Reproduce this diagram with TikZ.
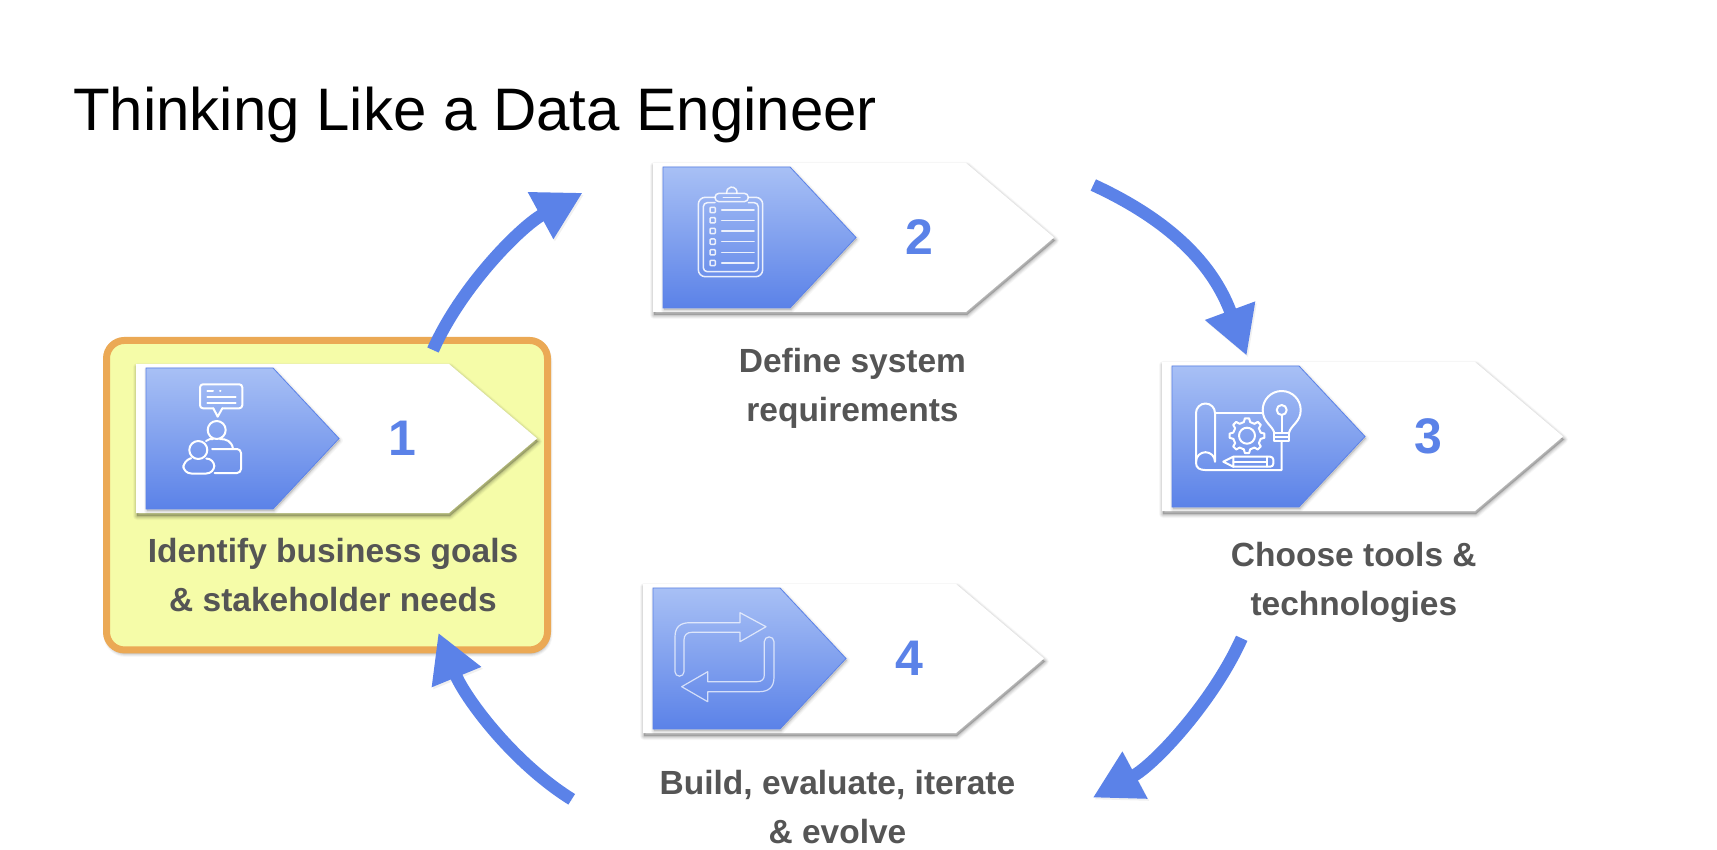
\documentclass[tikz,border=0pt]{standalone}
\usepackage{fontspec}
\setmainfont{Liberation Sans}
\usetikzlibrary{shapes.symbols,shapes.arrows,arrows.meta}
\definecolor{stepblue}{HTML}{5B82E8}
\definecolor{steptop}{HTML}{A8C0F5}
\definecolor{labelgray}{HTML}{555555}
\definecolor{hlfill}{HTML}{F5FCA8}
\definecolor{hlline}{HTML}{EBA955}
\tikzset{
  softshadow/.style={
    preaction={draw=black,fill=black,line width=8pt,line join=round,opacity=.03,transform canvas={shift={(1pt,-3pt)}}},
    preaction={draw=black,fill=black,line width=6pt,line join=round,opacity=.05,transform canvas={shift={(1pt,-3pt)}}},
    preaction={draw=black,fill=black,line width=4pt,line join=round,opacity=.06,transform canvas={shift={(1pt,-3pt)}}},
    preaction={draw=black,fill=black,line width=2pt,line join=round,opacity=.08,transform canvas={shift={(1pt,-3pt)}}}},
  lightshadow/.style={
    preaction={draw=black,fill=black,line width=6pt,line join=round,opacity=.03,transform canvas={shift={(1pt,-2pt)}}},
    preaction={draw=black,fill=black,line width=4pt,line join=round,opacity=.04,transform canvas={shift={(1pt,-2pt)}}},
    preaction={draw=black,fill=black,line width=2pt,line join=round,opacity=.05,transform canvas={shift={(1pt,-2pt)}}}},
  whitechev/.style={signal,signal to=east,signal from=nowhere,signal pointer angle=80.5,
    minimum width=401pt,minimum height=149pt,inner sep=0pt,outer sep=0pt,anchor=west,fill=white,softshadow},
  bluechev/.style={signal,signal to=east,signal from=nowhere,signal pointer angle=93.8,
    minimum width=193pt,minimum height=141pt,inner sep=0pt,outer sep=0pt,anchor=west,
    draw=stepblue,line width=.8pt,top color=steptop,bottom color=stepblue,lightshadow},
  digit/.style={text=stepblue,font=\fontsize{50}{50}\selectfont\bfseries,inner sep=0pt},
  steplabel/.style={text=labelgray,font=\fontsize{33.5}{49}\selectfont\bfseries,align=center,inner sep=0pt,anchor=base},
  flow/.style={draw=stepblue,line width=12.5pt,
    -{Triangle[length=48pt,width=50pt,fill=stepblue]},
    preaction={draw=black,opacity=.06,transform canvas={shift={(1.5pt,-2pt)}}}},
  icon/.style={draw=white,line width=2pt,line cap=round,line join=round},
  iconb/.style={draw=white,draw opacity=.85,line width=1.5pt,line cap=round,line join=round},
  iconc/.style={draw=white,draw opacity=.7,line width=1.2pt,line join=round},
}
\newcommand{\stepchev}[4]{%
  \begin{scope}[shift={(#2,#3)}]
    \node[whitechev] (chev#1) at (136,438.5) {};
    \node[bluechev] (blue#1) at (146,438.5) {};
    \node[digit] (num#1) at (402,438) {#4};
  \end{scope}}
\begin{document}
\begin{tikzpicture}[x=1pt,y=-1pt]
\useasboundingbox[fill=white] (0,0) rectangle (1717,850);
\node[anchor=base west,inner sep=0pt,font=\fontsize{60}{60}\selectfont] (title) at (73,131) {Thinking Like a Data Engineer};
\node[draw=hlline,fill=hlfill,line width=7pt,rounded corners=18pt,minimum width=441pt,minimum height=309.5pt,inner sep=0pt,outer sep=0pt,softshadow] (hl) at (327,495.2) {};
\stepchev{1}{0}{0}{1}
\stepchev{2}{517}{-201}{2}
\stepchev{3}{1026}{-2}{3}
\stepchev{4}{507}{220}{4}
\node[steplabel] (lab1) at (333,611) {Identify business goals\\\& stakeholder needs};
\node[steplabel] (lab2) at (852.5,421.7) {Define system\\requirements};
\node[steplabel] (lab3) at (1353.8,615) {Choose tools \&\\technologies};
\node[steplabel] (lab4) at (837.5,843) {Build, evaluate, iterate\\\& evolve};
% connectors
\coordinate (a1s) at (433,350); \coordinate (a1e) at (582.7,192.7);
\coordinate (a2s) at (1093.3,185); \coordinate (a2e) at (1246.7,355.7);
\coordinate (a3s) at (1241.7,638.3); \coordinate (a3e) at (1092.7,797.7);
\coordinate (a4s) at (571.7,799.3); \coordinate (a4e) at (438.3,632.7);
\draw[flow] (a1s) .. controls (461.4,286) and (521.2,226.2) .. (a1e);
\draw[flow] (a2s) .. controls (1184.3,227) and (1217.3,276) .. (a2e);
\draw[flow] (a3s) .. controls (1213,702) and (1154.3,764.8) .. (a3e);
\draw[flow] (a4s) .. controls (512,762) and (464.9,697.5) .. (a4e);
% icon 1
\draw[icon,rounded corners=3pt] (213.3,408.3) -- (200,408.3) -- (200,384.3) -- (242.3,384.3) -- (242.3,408.3) -- (222.3,408.3);
\draw[icon] (213.3,408.3) -- (217.7,416.7) -- (222.3,408.3);
\draw[icon] (207.3,390.7) -- (213,390.7) (220,390.7) -- (220.5,390.7) (207.3,397.3) -- (235.7,397.3) (207.3,403.3) -- (235.7,403.3);
\draw[icon] (216.7,430) circle (9);
\draw[icon] (206,441) .. controls (209,439) and (210,439) .. (213,439) (220,439) .. controls (226,439) and (232,441) .. (233,449);
\draw[icon,rounded corners=4pt] (212,449) -- (241,449) -- (241,473) -- (214.5,473);
\draw[icon] (198.3,450) circle (9);
\draw[icon,rounded corners=8pt] (190,458.5) -- (183.3,460) -- (183.3,473.5) -- (214.3,473.5) -- (214.3,458.5) -- (207,458.5);
% icon 2
\draw[iconb,rounded corners=7pt] (715,197.3) -- (698.3,197.3) -- (698.3,276.7) -- (762.7,276.7) -- (762.7,197.3) -- (748.3,197.3);
\draw[iconb,rounded corners=4pt] (715,202.7) -- (703.3,202.7) -- (703.3,271.7) -- (758.3,271.7) -- (758.3,202.7) -- (748.3,202.7);
\draw[iconb,rounded corners=4pt] (715,201.7) -- (715,193.3) -- (748.3,193.3) -- (748.3,201.7) -- cycle;
\draw[iconb] (726.5,193.3) arc[start angle=170,end angle=370,radius=5.3];
\draw[iconb] (723.3,197.3) -- (740,197.3);
\foreach \yy in {210,220.3,231,241.7,252.3,263}{
  \draw[iconb,rounded corners=1pt] (710,\yy-2.7) rectangle (715.4,\yy+2.7);
  \draw[iconb] (721.7,\yy) -- (754,\yy);
}
% icon 3
\draw[icon] (1196,463) -- (1196,413) arc[start angle=180,end angle=360,radius=9.5] -- (1215,461.7);
\draw[icon] (1215,461.7) arc[start angle=0,end angle=-180,radius=9.5];
\draw[icon] (1196,463) .. controls (1196,468) and (1200,470) .. (1205,470) -- (1281.7,470) -- (1281.7,441);
\draw[icon] (1215,412.7) -- (1263,412.7);
\draw[icon] (1274.3,432.7) .. controls (1272,425) and (1262.7,422) .. (1262.7,410) arc[start angle=180,end angle=360,radius=19] .. controls (1300.7,422) and (1291,425) .. (1289,432.7);
\draw[icon] (1274.3,432.7) -- (1289,432.7) (1274.3,432.7) -- (1274.3,441) -- (1289,441) -- (1289,432.7) (1274.3,437) -- (1289,437);
\draw[icon] (1281.7,410) circle (5);
\draw[icon] (1281.7,415) -- (1281.7,432.7);
\draw[icon] (1247,435.7) circle (8);
\begin{scope}[shift={(1247,435.7)}]
\foreach \a in {0,45,...,315}{
  \draw[icon] (\a-13:14) -- (\a-7:17.5) -- (\a+7:17.5) -- (\a+13:14) -- (\a+32:14);
}
\end{scope}
\draw[icon] (1233.3,456.7) -- (1223.3,461.7) -- (1233.3,466.7) -- cycle;
\draw[icon,rounded corners=3pt] (1233.3,456.7) -- (1273.3,456.7) -- (1273.3,466.7) -- (1233.3,466.7);
\draw[icon] (1233.3,461.7) -- (1266.7,461.7) (1266.7,456.7) -- (1266.7,466.7);
% icon 4
\draw[iconc] (675,671.7) -- (675,637) .. controls (675,627) and (680,622.7) .. (690,622.7) -- (740,622.7) -- (740,612.7) -- (766,626.7) -- (740,641.7) -- (740,632.3) -- (692,632.3) .. controls (687,632.3) and (684,635) .. (684,640) -- (684,671.7) arc[start angle=0,end angle=180,radius=4.5];
\draw[iconc] (774,641.7) -- (774,677) .. controls (774,687) and (769,691.7) .. (759,691.7) -- (707.7,691.7) -- (707.7,701.7) -- (681.7,686.7) -- (707.7,671.7) -- (707.7,681.7) -- (757,681.7) .. controls (762,681.7) and (764.3,679) .. (764.3,675) -- (764.3,641.7) arc[start angle=180,end angle=360,radius=4.85];
\end{tikzpicture}
\end{document}
